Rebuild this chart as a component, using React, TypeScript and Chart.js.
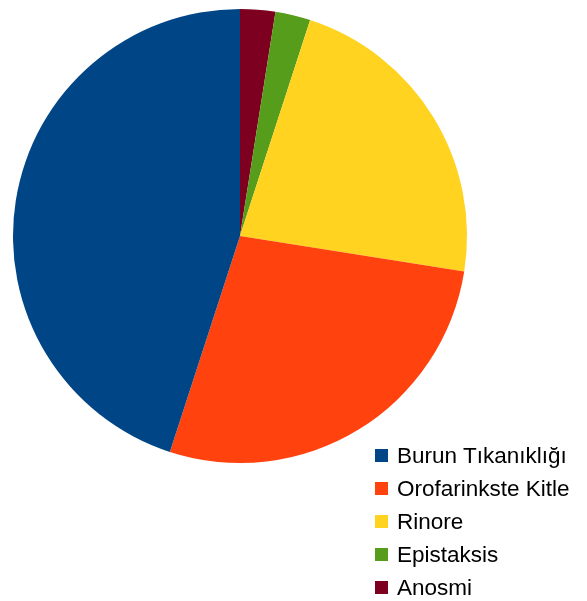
import React, { useEffect, useRef } from "react";
import { Chart, registerables } from "chart.js";

Chart.register(...registerables);

const categories = ["Burun Tıkanıklığı", "Orofarinkste Kitle", "Rinore", "Epistaksis", "Anosmi"];
const values = [18, 11, 9, 1, 1];
const colors = ["#004586", "#ff420e", "#ffd320", "#579d1c", "#7e0021"];

export default function App() {
  const ref = useRef<HTMLCanvasElement | null>(null);

  useEffect(() => {
    if (!ref.current) return;
    // Reference draws counter-clockwise from the top; Chart.js draws clockwise, so reverse.
    const labels = [...categories].reverse();
    const data = [...values].reverse();
    const bg = [...colors].reverse();
    const chart = new Chart(ref.current, {
      type: "pie",
      data: {
        labels,
        datasets: [{ data, backgroundColor: bg, borderWidth: 0 }],
      },
      options: {
        animation: false,
        responsive: false,
        maintainAspectRatio: false,
        layout: { padding: { left: 13, right: 120, top: 9, bottom: 138 } },
        plugins: { legend: { display: false }, tooltip: { enabled: false } },
      },
    });
    return () => chart.destroy();
  }, []);

  return (
    <div style={{ position: "fixed", left: 0, top: 0, width: 587, height: 601, background: "#fff" }}>
      <canvas ref={ref} width={587} height={601} style={{ position: "absolute", left: 0, top: 0 }} />
      {categories.map((c, i) => (
        <div
          key={c}
          style={{
            position: "absolute",
            left: 375,
            top: 439 + i * 33,
            height: 33,
            lineHeight: "33px",
            fontFamily: "'Liberation Sans', Arial, sans-serif",
            fontSize: 22.5,
            color: "#000",
            whiteSpace: "nowrap",
          }}
        >
          <span
            style={{
              position: "absolute",
              left: 0,
              top: 10,
              width: 13,
              height: 13,
              background: colors[i],
            }}
          />
          <span style={{ position: "absolute", left: 22, top: 0 }}>{c}</span>
        </div>
      ))}
    </div>
  );
}
